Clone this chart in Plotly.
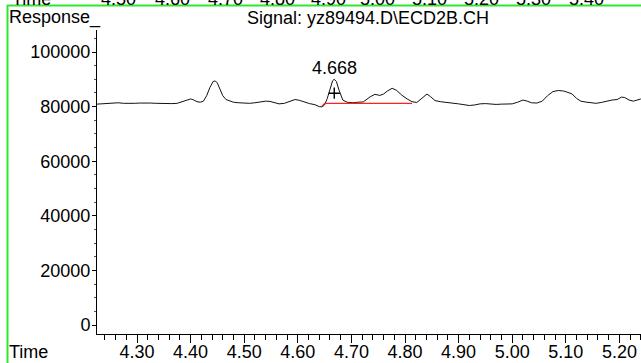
import plotly.graph_objects as go

# Chromatogram signal (retention time in min, response in counts)
time_min = [
    4.225, 4.235, 4.245, 4.255, 4.265, 4.275, 4.285, 4.295, 4.305, 4.315,
    4.325, 4.335, 4.345, 4.355, 4.365, 4.375, 4.385, 4.395, 4.400, 4.405,
    4.412, 4.418, 4.424, 4.430, 4.436, 4.442, 4.446, 4.450, 4.455, 4.460,
    4.466, 4.473, 4.480, 4.490, 4.500, 4.510, 4.520, 4.530, 4.540, 4.548,
    4.556, 4.565, 4.575, 4.585, 4.595, 4.603, 4.612, 4.622, 4.632, 4.640,
    4.645, 4.650, 4.655, 4.660, 4.665, 4.668, 4.672, 4.677, 4.684, 4.692,
    4.703, 4.712, 4.722, 4.735, 4.744, 4.753, 4.760, 4.767, 4.776, 4.784,
    4.794, 4.804, 4.813, 4.822, 4.832, 4.841, 4.848, 4.856, 4.866, 4.878,
    4.890, 4.900, 4.910, 4.920, 4.930, 4.940, 4.950, 4.960, 4.970, 4.980,
    4.990, 5.000, 5.010, 5.020, 5.028, 5.036, 5.046, 5.056, 5.066, 5.076,
    5.086, 5.096, 5.104, 5.112, 5.120, 5.128, 5.136, 5.146, 5.156, 5.166,
    5.176, 5.186, 5.196, 5.204, 5.210, 5.218, 5.226, 5.232, 5.240,
]
response = [
    80900, 81000, 81100, 81200, 81400, 81200, 81100, 81200, 81300, 81400,
    81300, 81200, 81100, 81200, 81100, 81200, 81800, 82600, 82800, 82500,
    81800, 81600, 82000, 84000, 87000, 89200, 89400, 88600, 86500, 84000,
    82600, 82000, 81600, 81400, 81300, 81200, 81400, 81800, 82000, 81900,
    81400, 81000, 81200, 82000, 82600, 82300, 81600, 81100, 80700, 80000,
    79900, 80600, 83000, 86500, 89500, 90000, 89200, 86000, 82400, 81600,
    81400, 81600, 81700, 83600, 84500, 84100, 84600, 85700, 86700, 86000,
    84200, 82800, 81800, 81500, 83000, 84600, 83600, 82200, 81800, 81600,
    81200, 81000, 80700, 80400, 80600, 81000, 81100, 80900, 80800, 80900,
    81000, 81000, 81600, 82400, 82000, 81400, 81300, 82000, 84000, 85500,
    85900, 85700, 85200, 84600, 83000, 82000, 81700, 81400, 81200, 81500,
    82000, 82400, 82600, 83500, 83300, 82400, 82000, 82400, 82800,
]

# Integration baseline under the labelled peak
baseline_time = [4.645, 4.650, 4.813]
baseline_resp = [80200, 81200, 81200]

peak_rt = 4.668
peak_top = 90000
peak_mark_resp = 84900

# Axis tick values
x_ticks = [4.30, 4.40, 4.50, 4.60, 4.70, 4.80, 4.90, 5.00, 5.10, 5.20]
y_ticks = [0, 20000, 40000, 60000, 80000, 100000]

# Tick labels of the panel above, cut off by the top edge
prev_labels = ["4.50", "4.60", "4.70", "4.80", "4.90", "5.00", "5.10", "5.20", "5.30", "5.40"]
prev_label_px = [118, 172, 225, 277, 328, 377, 429, 481, 533, 586]

W, H = 641, 363
L, R, T, B = 97, 0, 30, 29
PW, PH = W - L - R, H - T - B


def px_x(px):
    return (px - L) / PW


def px_y(py):
    return (H - B - py) / PH


FONT = "Liberation Sans, Arial, sans-serif"
FS = 18

fig = go.Figure()
fig.add_trace(go.Scatter(
    x=time_min, y=response, mode="lines",
    line=dict(color="#111111", width=1), hoverinfo="skip", showlegend=False,
))
fig.add_trace(go.Scatter(
    x=baseline_time, y=baseline_resp, mode="lines",
    line=dict(color="#ff2020", width=1.2), showlegend=False,
))
fig.add_trace(go.Scatter(
    x=[peak_rt], y=[peak_mark_resp], mode="markers",
    marker=dict(symbol="cross-thin", size=8, line=dict(color="#000000", width=1.4)),
    showlegend=False,
))

annotations = [
    dict(x=peak_rt, y=peak_top, xref="x", yref="y", text=f"{peak_rt:.3f}",
         showarrow=False, yanchor="bottom", yshift=-1,
         font=dict(size=FS, color="#000000", family=FONT)),
    dict(x=px_x(7), y=px_y(18), xref="paper", yref="paper", text="Response_",
         showarrow=False, xanchor="left", yanchor="middle",
         font=dict(size=FS, color="#000000", family=FONT)),
    dict(x=px_x(368), y=px_y(18), xref="paper", yref="paper",
         text="Signal: yz89494.D\\ECD2B.CH", showarrow=False,
         xanchor="center", yanchor="middle",
         font=dict(size=FS, color="#000000", family=FONT)),
    dict(x=px_x(7), y=px_y(352), xref="paper", yref="paper", text="Time",
         showarrow=False, xanchor="left", yanchor="middle",
         font=dict(size=FS, color="#000000", family=FONT)),
    dict(x=px_x(10), y=px_y(-1), xref="paper", yref="paper", text="Time",
         showarrow=False, xanchor="left", yanchor="middle",
         font=dict(size=FS, color="#000000", family=FONT)),
]
for lab, p in zip(prev_labels, prev_label_px):
    annotations.append(dict(
        x=px_x(p), y=px_y(-1), xref="paper", yref="paper", text=lab,
        showarrow=False, xanchor="center", yanchor="middle",
        font=dict(size=FS, color="#000000", family=FONT)))

green = "#2ee82e"
shapes = [
    dict(type="line", xref="paper", yref="paper",
         x0=px_x(7), x1=px_x(W + 2), y0=px_y(5.5), y1=px_y(5.5),
         line=dict(color=green, width=2)),
    dict(type="line", xref="paper", yref="paper",
         x0=px_x(7.5), x1=px_x(7.5), y0=px_y(5), y1=px_y(H + 2),
         line=dict(color=green, width=2)),
]

y_per_px = 100000 / 273.0
fig.update_layout(
    width=W, height=H,
    margin=dict(l=L, r=R, t=T, b=B, pad=0),
    paper_bgcolor="white", plot_bgcolor="white",
    font=dict(family=FONT, size=FS, color="#000000"),
    annotations=annotations, shapes=shapes,
    xaxis=dict(
        range=[4.30 - 40 / 536, 4.30 + (W - 137) / 536],
        tickvals=x_ticks, ticktext=[f"{v:.2f}" for v in x_ticks],
        ticks="outside", ticklen=8, tickwidth=1, tickcolor="#000000",
        showline=True, linecolor="#000000", linewidth=1,
        showgrid=False, zeroline=False,
        tickfont=dict(size=FS, color="#000000", family=FONT),
        ticklabelstandoff=-7,
        minor=dict(dtick=0.02, tick0=4.30, ticks="outside", ticklen=5,
                   tickcolor="#000000", tickwidth=1, showgrid=False),
    ),
    yaxis=dict(
        range=[-(334 - 325) * y_per_px, (325 - 30) * y_per_px],
        tickvals=y_ticks, ticktext=[str(v) for v in y_ticks],
        ticks="outside", ticklen=4, tickwidth=1, tickcolor="#000000",
        showline=True, linecolor="#000000", linewidth=1,
        showgrid=False, zeroline=False,
        tickfont=dict(size=FS, color="#000000", family=FONT),
        ticklabelstandoff=-2,
        minor=dict(dtick=5000, ticks="outside", ticklen=2,
                   tickcolor="#555555", tickwidth=1, showgrid=False),
    ),
)

fig.write_html("out.html")
